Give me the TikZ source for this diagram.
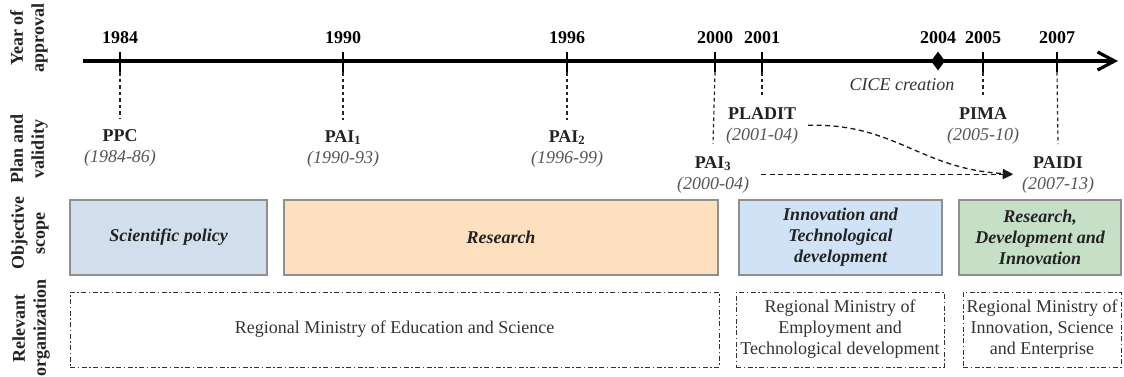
\documentclass[tikz,border=0pt]{standalone}
\usepackage{fontspec}
\setmainfont{Liberation Serif}
\usetikzlibrary{arrows.meta,shapes.geometric}
\definecolor{sciblue}{HTML}{D3DEEC}
\definecolor{respeach}{HTML}{FCE0C0}
\definecolor{innoblue}{HTML}{CFE2F6}
\definecolor{rdigreen}{HTML}{C6E0C8}
\definecolor{boxborder}{HTML}{8F8F8F}
\definecolor{dategray}{HTML}{555555}
\definecolor{txtdark}{HTML}{222222}
\begin{document}
\begin{tikzpicture}[x=1pt,y=-1pt,
  every node/.style={font=\fontsize{18}{21}\selectfont, inner sep=0pt, text=txtdark},
  yearlbl/.style={font=\fontsize{18}{21}\selectfont\bfseries, text=black},
  sidelbl/.style={font=\fontsize{18}{21}\selectfont\bfseries, align=center, rotate=90},
  planlbl/.style={align=center, anchor=north},
  ticks/.style={line width=2.5pt},
  vdash/.style={line width=1.2pt, dash pattern=on 3.5pt off 3pt, black!85},
  flowarrow/.style={line width=1.3pt, dash pattern=on 5pt off 3.5pt, black!90,
     -{Triangle[length=10pt,width=9pt]}},
  scopebox/.style={draw=boxborder, line width=1.2pt, minimum height=75pt,
     align=center, font=\fontsize{18}{21}\selectfont\bfseries\itshape},
  orgbox/.style={draw=black!80, line width=0.8pt,
     dash pattern=on 5pt off 2.5pt on 1.5pt off 2.5pt, minimum height=75pt,
     align=center, text=black!80}
]
\useasboundingbox (0,0) rectangle (1124,376);

% side labels
\node[sidelbl] (lyear) at (29,38) {Year of\\approval};
\node[sidelbl] (lplan) at (29,149) {Plan and\\validity};
\node[sidelbl] (lscope) at (30,233) {Objective\\scope};
\node[sidelbl] (lorg) at (31,328) {Relevant\\organization};

% timeline
\coordinate (tlstart) at (83,61);
\coordinate (tlend) at (1118,61);
\draw[line width=3.2pt, -{Straight Barb[length=17pt,width=18pt]}] (tlstart) -- (tlend);

% years and ticks
\foreach \yr/\xx in {1984/120,1990/343,1996/567,2000/715,2001/762,2005/983,2007/1057}{
  \node[yearlbl] (y\yr) at (\xx,38) {\yr};
  \draw[ticks] (\xx,52) -- (\xx,72);
  \coordinate (t\yr) at (\xx,72);
}
\node[yearlbl] (y2004) at (938,38) {2004};
\node[diamond, fill=black, aspect=0.75, minimum width=14pt, minimum height=19pt, inner sep=0pt] (cice) at (938,61) {};
\node[font=\fontsize{18}{21}\selectfont\itshape, text=black!80] (cicelbl) at (902,85) {CICE creation};

% plans
\node[planlbl] (ppc) at (120,129) {\textbf{PPC}\\{\color{dategray}\itshape (1984-86)}};
\node[planlbl] (pai1) at (343,130) {\textbf{PAI\textsubscript{1}}\\{\color{dategray}\itshape (1990-93)}};
\node[planlbl] (pai2) at (567,130) {\textbf{PAI\textsubscript{2}}\\{\color{dategray}\itshape (1996-99)}};
\node[planlbl] (pai3) at (713,156) {\textbf{PAI\textsubscript{3}}\\{\color{dategray}\itshape (2000-04)}};
\node[planlbl] (pladit) at (762,107) {\textbf{PLADIT}\\{\color{dategray}\itshape (2001-04)}};
\node[planlbl] (pima) at (983,107) {\textbf{PIMA}\\{\color{dategray}\itshape (2005-10)}};
\node[planlbl] (paidi) at (1058,156) {\textbf{PAIDI}\\{\color{dategray}\itshape (2007-13)}};

\draw[vdash] (t1984) -- ([yshift=10pt]ppc.north);
\draw[vdash] (t1990) -- ([yshift=10pt]pai1.north);
\draw[vdash] (t1996) -- ([yshift=10pt]pai2.north);
\draw[vdash] (t2000) -- ([yshift=12pt]pai3.north);
\draw[vdash] (t2001) -- ([yshift=10pt]pladit.north);
\draw[vdash] (t2005) -- ([yshift=10pt]pima.north);
\draw[vdash] (t2007) -- ([yshift=12pt]paidi.north);

% flow arrows
\draw[flowarrow, shorten <=12pt, shorten >=9pt] (pai3.east) -- (paidi.west);
\draw[flowarrow, shorten <=10pt, shorten >=9pt] (pladit.east) .. controls (895,123) and (920,169) .. (paidi.west);

% objective scope boxes
\node[scopebox, fill=sciblue, minimum width=197pt] (sci) at (168.5,237.5) {Scientific policy};
\node[scopebox, fill=respeach, minimum width=434pt] (res) at (501,237.5) {Research};
\node[scopebox, fill=innoblue, minimum width=203pt] (inno) at (840.5,237.5) {Innovation and\\Technological\\development};
\node[scopebox, fill=rdigreen, minimum width=162pt] (rdi) at (1040,237.5) {Research,\\Development and\\Innovation};

% organization boxes
\node[orgbox, minimum width=649pt] (org1) at (394.5,329.5) {Regional Ministry of Education and Science};
\node[orgbox, minimum width=208pt] (org2) at (840,329.5) {Regional Ministry of\\Employment and\\Technological development};
\node[orgbox, minimum width=158pt] (org3) at (1042,329.5) {Regional Ministry of\\Innovation, Science\\and Enterprise};
\end{tikzpicture}
\end{document}
